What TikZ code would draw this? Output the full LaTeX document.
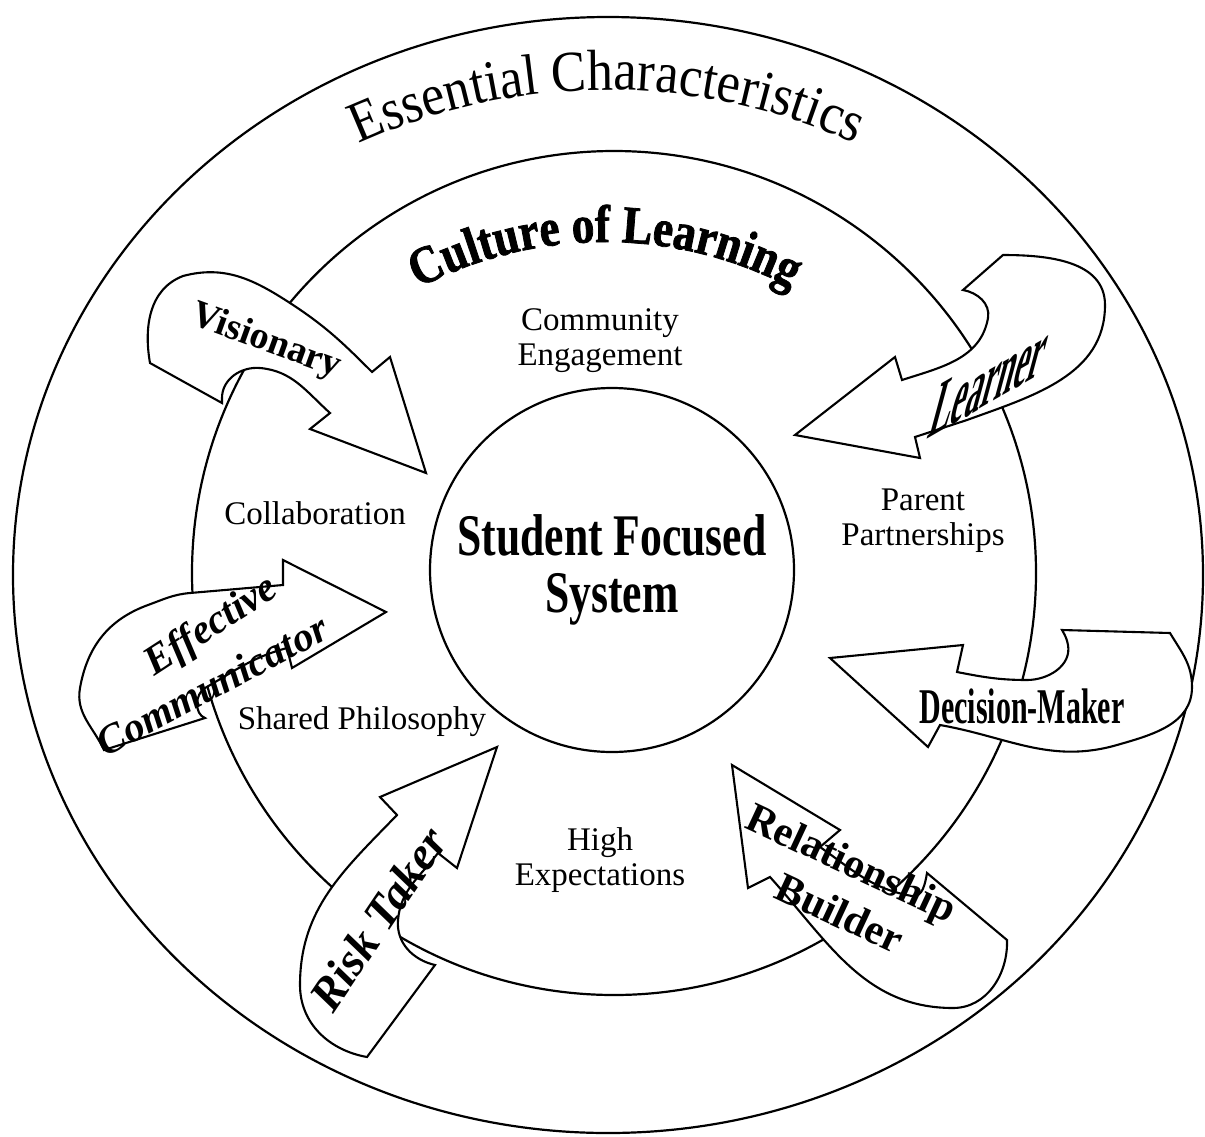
\documentclass[tikz,border=0pt]{standalone}
\usepackage{fontspec}
\setmainfont{Liberation Serif}
\newfontfamily\condserif[FakeStretch=0.74]{Liberation Serif}
\newfontfamily\narrowserif[FakeStretch=0.6]{Liberation Serif}
\newfontfamily\archserif[FakeStretch=0.9]{Liberation Serif}
\newfontfamily\heavyserif[FakeStretch=0.85, FakeBold=1.5]{Liberation Serif}
\usetikzlibrary{decorations.text}

\tikzset{
  ring/.style={line width=1.1pt},
  bandarrow/.style={draw, fill=white, line width=1.05pt, line join=miter},
  zonetext/.style={font=\fontsize{16.5}{17.5}\selectfont, align=center},
  arrowtext/.style={font=\bfseries\fontsize{20}{20}\selectfont, inner sep=0pt},
}

\begin{document}
\begin{tikzpicture}[x=0.5pt, y=0.5pt]
    \useasboundingbox (0,0) rectangle (1205,-1136);

    % the three rings
    \draw[ring] (608,-575) ellipse [x radius=595, y radius=558];
    \draw[ring] (614,-573) circle [radius=422];
    \node[ring, draw, circle, minimum size=182pt, align=center,
          font=\condserif\bfseries\fontsize{29.5}{28.5}\selectfont] (core) at (612,-570) {Student Focused\\System};

    % arched titles
    \path[decorate, decoration={text along path, text align=center,
          text={|\archserif\fontsize{29}{32}\selectfont|Essential Characteristics}}]
        (607,-690) ++(116:600) arc [start angle=116, end angle=64, radius=600];
    \path[decorate, decoration={text along path, text align=center,
          text={|\heavyserif\bfseries\fontsize{26.5}{30}\selectfont|Culture of Learning}}]
        (605,-642) ++(122:400) arc [start angle=122, end angle=58, radius=400];

    % parts of the culture ring
    \node[zonetext] (engage) at (600,-341) {Community\\Engagement};
    \node[zonetext] (collab) at (315,-513) {Collaboration};
    \node[zonetext] (parents) at (923,-521) {Parent\\Partnerships};
    \node[zonetext] (philo) at (362,-722) {Shared Philosophy};
    \node[zonetext] (expect) at (600,-860) {High\\Expectations};

    % Visionary
    \draw[bandarrow] (150,-363) to[out=100, in=201] (183,-276) to[out=15, in=147] (290,-303)
        to[out=-33, in=135] (372,-372) -- (390,-357) -- (426,-473) -- (310,-429) -- (330,-413)
        to[out=138, in=-5] (260,-368) to[out=175, in=90] (222,-398) -- (222,-403) -- cycle;
    % Learner
    \draw[bandarrow] (795,-435) -- (895,-357) -- (902,-380)
        to[out=18, in=-100] (988,-318) to[out=80, in=-10] (963,-290) -- (1003,-255)
        to[out=0, in=90] (1105,-305) to[out=-90, in=20] (967,-420) -- (915,-437) -- (920,-458) -- cycle;
    % Effective Communicator
    \draw[bandarrow] (283,-585) -- (283,-560) -- (386,-612) -- (292,-668) -- (287,-648)
        to[out=195, in=30] (205,-688) to[out=210, in=160] (205,-718) -- (104,-750)
        to[out=115, in=-100] (80,-688) to[out=80, in=200] (148,-605) to[out=20, in=185] (190,-593) -- cycle;
    % Decision-Maker
    \draw[bandarrow] (830,-658) -- (963,-645) -- (957,-672)
        to[out=-11, in=180] (1027,-680) to[out=0, in=-80] (1068,-645) to[out=100, in=-60] (1062,-630)
        -- (1170,-633) to[out=-59, in=90] (1192,-687) to[out=-90, in=16] (1117,-745)
        to[out=196, in=-10] (940,-725) -- (928,-747) -- cycle;
    % Risk Taker
    \draw[bandarrow] (497,-747) -- (457,-868) -- (438,-853)
        to[out=233, in=85] (398,-920) to[out=-95, in=167] (435,-965) -- (367,-1057)
        to[out=170, in=-90] (300,-985) to[out=90, in=226] (397,-815) -- (380,-797) -- cycle;
    % Relationship Builder
    \draw[bandarrow] (732,-765) -- (840,-830) -- (820,-847)
        to[out=-35, in=170] (912,-896) to[out=-10, in=-100] (927,-873) -- (1007,-940)
        to[out=-88, in=0] (953,-1008) to[out=180, in=-48] (770,-877) -- (748,-888) -- cycle;

    % arrow labels
    \node[arrowtext, rotate=-20, font=\bfseries\fontsize{19}{19}\selectfont] (visionary) at (266,-342) {Visionary};
    \node[arrowtext, rotate=30, xslant=1.0, font=\narrowserif\bfseries\fontsize{31}{31}\selectfont] (learner) at (990,-380) {Learner};
    \node[arrowtext, rotate=33, font=\bfseries\itshape\fontsize{20.5}{20.5}\selectfont] (effective) at (212,-627) {Effective};
    \node[arrowtext, rotate=28, font=\bfseries\itshape\fontsize{20.5}{20.5}\selectfont] (communicator) at (212,-685) {Communicator};
    \node[arrowtext, font=\narrowserif\bfseries\fontsize{25}{25}\selectfont] (decide) at (1022,-706) {Decision-Maker};
    \node[arrowtext, rotate=56, font=\bfseries\itshape\fontsize{23.5}{23.5}\selectfont] (risk) at (378,-919) {Risk Taker};
    \node[arrowtext, rotate=-25, font=\bfseries\fontsize{21}{21}\selectfont] (relation) at (850,-866) {Relationship};
    \node[arrowtext, rotate=-25, font=\bfseries\fontsize{21}{21}\selectfont] (builder) at (840,-913) {Builder};
\end{tikzpicture}
\end{document}
